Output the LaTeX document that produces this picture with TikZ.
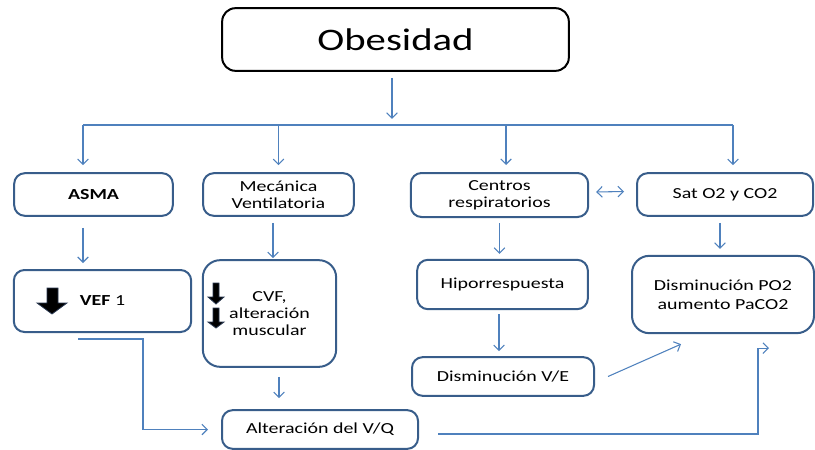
\documentclass[tikz,border=0pt]{standalone}
\usepackage{fontspec}
\setmainfont{Carlito}[FakeStretch=1.3]
\usetikzlibrary{arrows.meta,calc}
\definecolor{bord}{HTML}{385D8A}
\definecolor{conn}{HTML}{4F81BD}
\definecolor{blkedge}{HTML}{283750}
\begin{document}
\begin{tikzpicture}[x=0.75pt,y=-0.75pt,
 box/.style={draw=bord, line width=1.5pt, rounded corners=8pt, align=center,
   font=\fontsize{11.5}{13}\selectfont, inner sep=0pt},
 bigbox/.style={box, rounded corners=13pt},
 arr/.style={draw=conn, line width=0.8pt, -{Straight Barb[length=4pt,width=8pt]}},
 dblarr/.style={draw=conn, line width=0.8pt, {Straight Barb[length=4pt,width=8pt]}-{Straight Barb[length=4pt,width=8pt]}},
 ln/.style={draw=conn, line width=0.8pt},
 blk/.style={fill=black, draw=blkedge, line width=0.6pt, line join=miter}]
\useasboundingbox (0,0) rectangle (815,450);

% nodes
\node[box, draw=black, rounded corners=10pt, minimum width=260pt, minimum height=47pt,
  font=\fontsize{23.5}{26}\selectfont] (obes) at (395.5,39.5) {Obesidad};
\node[box, minimum width=119pt, minimum height=32pt] (asma) at (93.5,194.5) {\textbf{ASMA}};
\node[box, minimum width=113pt, minimum height=32pt] (mec) at (278.5,194.5) {Mecánica\\Ventilatoria};
\node[box, minimum width=133pt, minimum height=33pt] (cen) at (499.5,195) {Centros\\respiratorios};
\node[box, minimum width=132pt, minimum height=32pt] (sat) at (725,194.5) {Sat O2 y CO2};
\node[box, minimum width=133pt, minimum height=46.5pt] (vef) at (102.5,301) {\textbf{VEF} 1};
\node[bigbox, minimum width=100pt, minimum height=80pt] (cvf) at (269.5,313.5) {CVF,\\alteración\\muscular};
\node[box, minimum width=128pt, minimum height=37pt] (hipo) at (502.5,284.5) {Hiporrespuesta};
\node[box, minimum width=136.5pt, minimum height=29pt] (disve) at (503,376.5) {Disminución V/E};
\node[bigbox, minimum width=136.5pt, minimum height=58pt, font=\fontsize{11.5}{14}\selectfont] (po2) at (723,294.5) {Disminución PO2\\aumento PaCO2};
\node[box, minimum width=147pt, minimum height=29pt] (alt) at (320,429.5) {Alteración del V/Q};

% block arrows
\begin{scope}[shift={(vef.center)}]
\draw[blk] (-55.5,-13) -- (-44.5,-13) -- (-44.5,2) -- (-35.5,2) -- (-50.5,13) -- (-65.5,2) -- (-55.5,2) -- cycle;
\end{scope}
\begin{scope}[shift={(cvf.center)}]
\draw[blk] (-56.5,-30.5) -- (-50.5,-30.5) -- (-50.5,-16.5) -- (-45.5,-16.5) -- (-53.5,-9.5) -- (-61.5,-16.5) -- (-56.5,-16.5) -- cycle;
\draw[blk] (-56.5,-5.5) -- (-50.5,-5.5) -- (-50.5,8.5) -- (-45.5,8.5) -- (-53.5,14.5) -- (-61.5,8.5) -- (-56.5,8.5) -- cycle;
\end{scope}

% connectors
\coordinate (bL) at (83,125);
\coordinate (bR) at (733,125);
\draw[arr] ($(obes.south)+(-3.5,6)$) -- ($(obes.south)+(-3.5,47)$);
\draw[ln] (bL) -- (bR);
\draw[arr] (bL) -- ($(bL |- asma.north)+(0,-7)$);
\draw[arr] (mec.north |- bL) -- ($(mec.north)+(0,-7)$);
\draw[arr] ($(cen.north |- bL)+(6.5,0)$) -- ($(cen.north)+(6.5,-7)$);
\draw[arr] (bR) -- ($(bR |- sat.north)+(0,-7)$);

\draw[arr] ($(asma.south -| bL)+(0,11)$) -- ($(vef.north -| bL)+(0,-6)$);
\draw[arr] ($(mec.south)+(-5.5,6)$) -- ($(mec.south |- cvf.north)+(-5.5,-1)$);
\draw[arr] ($(cen.south)+(0,5)$) -- ($(cen.south |- hipo.north)+(0,-5)$);
\draw[arr] ($(sat.south)+(-5,6)$) -- ($(sat.south |- po2.north)+(-5,-6)$);
\draw[arr] ($(hipo.south)+(-3.5,4)$) -- ($(hipo.south |- disve.north)+(-3.5,-5)$);
\draw[dblarr] ($(cen.east)+(7,-3)$) -- ($(sat.west)+(-12,-3)$);
\draw[arr] ($(disve.east)+(13,0)$) -- ($(po2.south west)+(50,10)$);
\draw[arr] ($(alt.east)+(19,4.5)$) -| ($(po2.south)+(35,14)$) -- ($(po2.south)+(46,14)$);
\draw[arr] ($(vef.south)+(-24.5,6)$) -- ($(vef.south)+(40.5,6)$) |- ($(alt.west)+(-13,0)$);
\draw[arr] ($(cvf.south)+(9.5,9)$) -- ($(cvf.south |- alt.north)+(9.5,-11)$);
\end{tikzpicture}
\end{document}
